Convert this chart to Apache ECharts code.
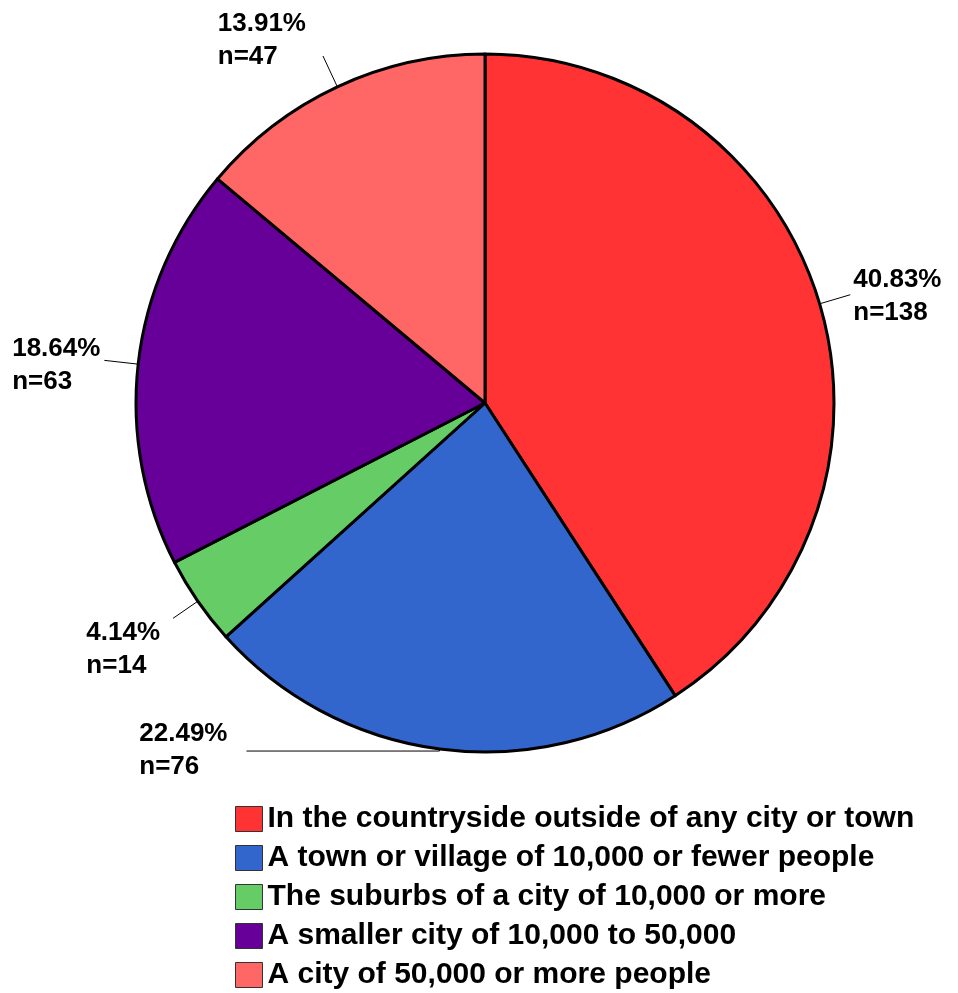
<!DOCTYPE html>
<html>
<head>
<meta charset="utf-8">
<script src="https://cdn.jsdelivr.net/npm/echarts@6/dist/echarts.min.js"></script>
<style>
  html, body { margin: 0; padding: 0; background: #fff; }
  #chart { width: 958px; height: 993px; }
</style>
</head>
<body>
<div id="chart"></div>
<script>
// data
const categories = [
    'In the countryside outside of any city or town',
    'A town or village of 10,000 or fewer people',
    'The suburbs of a city of 10,000 or more',
    'A smaller city of 10,000 to 50,000',
    'A city of 50,000 or more people'
];
const counts = [138, 76, 14, 63, 47];
const percents = ['40.83%', '22.49%', '4.14%', '18.64%', '13.91%'];

const colors = ['#ff3333', '#3366cc', '#66cc66', '#660099', '#ff6666'];
// per-label line length / nudges
const lineLen = [32, 2, 30, 34, 34];
const lineLen2 = [0, 193, 0, 0, 0];
const labelShift = [[-2, 2], [-14, -1], [-8, 31], [1, 5], [-12, -16]];

const chart = echarts.init(document.getElementById('chart'));

const seriesData = categories.map(function (name, i) {
    return {
        name: name,
        value: counts[i],
        pct: percents[i],
        itemStyle: { color: colors[i] },
        labelLine: { length: lineLen[i], length2: lineLen2[i] }
    };
});

const options = {
    animation: false,
    textStyle: { fontFamily: '"Liberation Sans", Arial, sans-serif' },
    legend: {
        orient: 'vertical',
        left: 235,
        top: 804,
        height: 189,
        padding: 0,
        icon: 'rect',
        itemWidth: 27,
        itemHeight: 25,
        itemGap: 9,
        itemStyle: { borderColor: '#333', borderWidth: 1 },
        textStyle: {
            fontSize: 30,
            fontWeight: 'bold',
            color: '#000',
            lineHeight: 30,
            fontFamily: '"Liberation Sans", Arial, sans-serif'
        },
        data: categories
    },
    series: [
        {
            type: 'pie',
            center: [485, 403],
            radius: 349,
            startAngle: 90,
            clockwise: true,
            avoidLabelOverlap: false,
            itemStyle: { borderColor: '#000', borderWidth: 3 },
            label: {
                show: true,
                position: 'outside',
                fontSize: 26,
                fontWeight: 'bold',
                color: '#000',
                lineHeight: 33,
                fontFamily: '"Liberation Sans", Arial, sans-serif',
                formatter: function (p) {
                    return p.data.pct + '\nn=' + p.value;
                }
            },
            labelLine: {
                show: true,
                lineStyle: { color: '#000', width: 1 }
            },
            labelLayout: function (p) {
                const s = labelShift[p.dataIndex];
                const r = p.labelRect;
                return {
                    x: r.x + s[0],
                    y: r.y + s[1],
                    align: 'left',
                    verticalAlign: 'top',
                    labelLinePoints: p.labelLinePoints
                };
            },
            emphasis: { disabled: true },
            data: seriesData
        }
    ]
};

chart.setOption(options);
</script>
</body>
</html>
